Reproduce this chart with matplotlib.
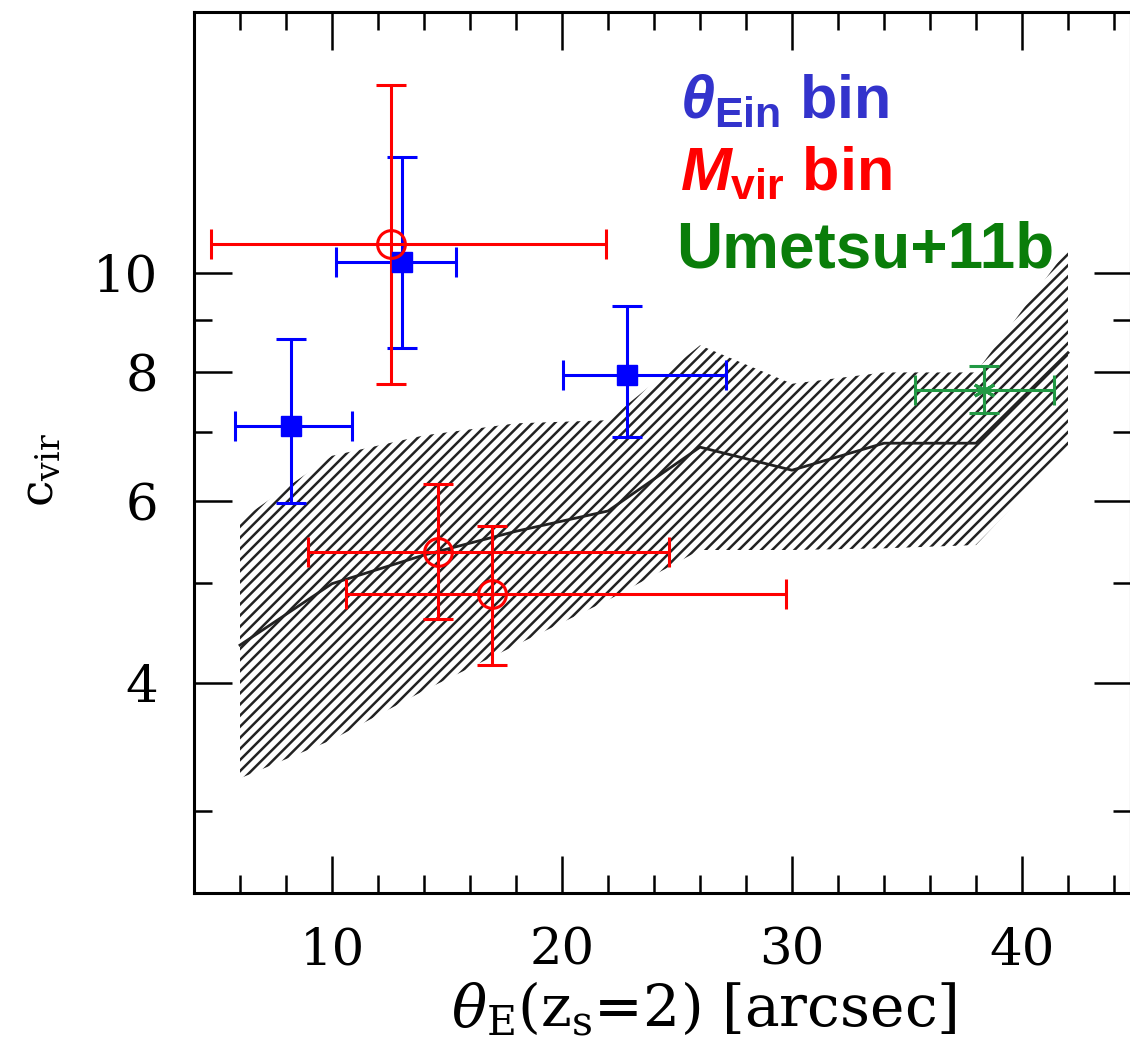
import numpy as np
import matplotlib
matplotlib.use("Agg")
import matplotlib.pyplot as plt
from matplotlib.ticker import FixedLocator, FixedFormatter, NullFormatter

# simulated median concentration and its scatter band
theta_grid = [6, 10, 14, 18, 22, 26, 30, 34, 38, 42]
c_median = [4.35, 4.99, 5.32, 5.61, 5.87, 6.77, 6.43, 6.83, 6.83, 8.36]
c_upper = [5.75, 6.64, 6.95, 7.14, 7.19, 8.50, 7.80, 8.00, 8.00, 10.55]
c_lower = [3.23, 3.52, 3.93, 4.35, 4.81, 5.38, 5.38, 5.40, 5.44, 6.75]

# theta_Ein bins
ein_x = [8.22, 13.04, 22.83]
ein_xlo = [5.80, 10.17, 20.04]
ein_xhi = [10.87, 15.39, 27.13]
ein_c = [7.09, 10.25, 7.96]
ein_clo = [5.97, 8.44, 6.93]
ein_chi = [8.63, 12.96, 9.27]

# Mvir bins
mvir_x = [12.57, 14.61, 16.96]
mvir_xlo = [4.74, 8.96, 10.61]
mvir_xhi = [21.91, 24.65, 29.74]
mvir_c = [10.65, 5.36, 4.88]
mvir_clo = [7.79, 4.61, 4.16]
mvir_chi = [15.21, 6.23, 5.68]

# Umetsu+11b
ume_x = [38.35]
ume_xlo = [35.35]
ume_xhi = [41.39]
ume_c = [7.69]
ume_clo = [7.30]
ume_chi = [8.12]

plt.rcParams["hatch.linewidth"] = 1.8
plt.rcParams["mathtext.fontset"] = "custom"
plt.rcParams["mathtext.rm"] = "Liberation Sans:bold"
plt.rcParams["mathtext.it"] = "Liberation Sans:bold:italic"
plt.rcParams["mathtext.bf"] = "Liberation Sans:bold"

W, H = 1130, 1049
fig = plt.figure(figsize=(W / 100, H / 100), dpi=100)
ax = fig.add_axes([194 / W, (H - 893) / H, 937 / W, 881 / H])


def errs(v, lo, hi):
    v = np.asarray(v)
    return [v - np.asarray(lo), np.asarray(hi) - v]


ax.fill_between(theta_grid, c_lower, c_upper, facecolor="none",
                edgecolor="#222222", hatch="///", linewidth=0)
ax.plot(theta_grid, c_median, color="#222222", lw=2.0)

ekw = dict(linestyle="none", elinewidth=2.2, capsize=11, capthick=2.2)
ax.errorbar(ein_x, ein_c, xerr=errs(ein_x, ein_xlo, ein_xhi),
            yerr=errs(ein_c, ein_clo, ein_chi), color="#0000ff",
            marker="s", markersize=14, **ekw)
ax.errorbar(mvir_x, mvir_c, xerr=errs(mvir_x, mvir_xlo, mvir_xhi),
            yerr=errs(mvir_c, mvir_clo, mvir_chi), color="#ff0000",
            marker="o", markersize=20, mfc="none", mew=2.2, **ekw)
ax.errorbar(ume_x, ume_c, xerr=errs(ume_x, ume_xlo, ume_xhi),
            yerr=errs(ume_c, ume_clo, ume_chi), color="#229944",
            marker=(6, 2, 0), markersize=16, mew=2.2, **ekw)

ax.set_yscale("log")
ax.set_xlim(4, 4 + 937 / 23)
ax.set_ylim(2.5, 17.9)

ax.xaxis.set_major_locator(FixedLocator([10, 20, 30, 40]))
ax.xaxis.set_minor_locator(FixedLocator(np.arange(4, 46, 2)))
ax.yaxis.set_major_locator(FixedLocator([4, 6, 8, 10]))
ax.yaxis.set_major_formatter(FixedFormatter(["4", "6", "8", "10"]))
ax.yaxis.set_minor_locator(FixedLocator([3, 5, 7, 9]))
ax.yaxis.set_minor_formatter(NullFormatter())

ax.tick_params(which="both", direction="in", top=True, right=True, width=1.8,
               labelsize=37, colors="black")
ax.tick_params(axis="x", pad=24)
ax.tick_params(axis="y", pad=26)
ax.tick_params(which="major", length=27)
ax.tick_params(which="minor", length=13)
for lab in ax.get_xticklabels() + ax.get_yticklabels():
    lab.set_family("DejaVu Serif")
for s in ax.spines.values():
    s.set_linewidth(2.2)

ax.set_xlabel(r"$\theta_{\rm E}$(z$_{\rm s}$=2) [arcsec]", fontsize=42,
              family="DejaVu Serif", math_fontfamily="dejavuserif")
ax.xaxis.set_label_coords((704 - 194) / 937, -0.098)
ax.set_ylabel(r"c$_{\rm vir}$", fontsize=34, family="DejaVu Serif",
              math_fontfamily="dejavuserif")
ax.yaxis.set_label_coords((64 - 194) / 937, 0.48)

tkw = dict(transform=ax.transAxes, family="Liberation Sans",
           fontweight="bold", ha="left", va="baseline")
ax.text((680 - 194) / 937, (893 - 118) / 881, r"$\theta_{\rm Ein}$ bin",
        color="#3333cc", fontsize=44, **tkw)
ax.text((680 - 194) / 937, (893 - 190) / 881, r"$M_{\rm vir}$ bin",
        color="#ff0000", fontsize=44, **tkw)
ax.text((676 - 194) / 937, (893 - 268) / 881, "Umetsu+11b",
        color="#0a7d0a", fontsize=46, **tkw)

fig.savefig("out.png", dpi=100)
